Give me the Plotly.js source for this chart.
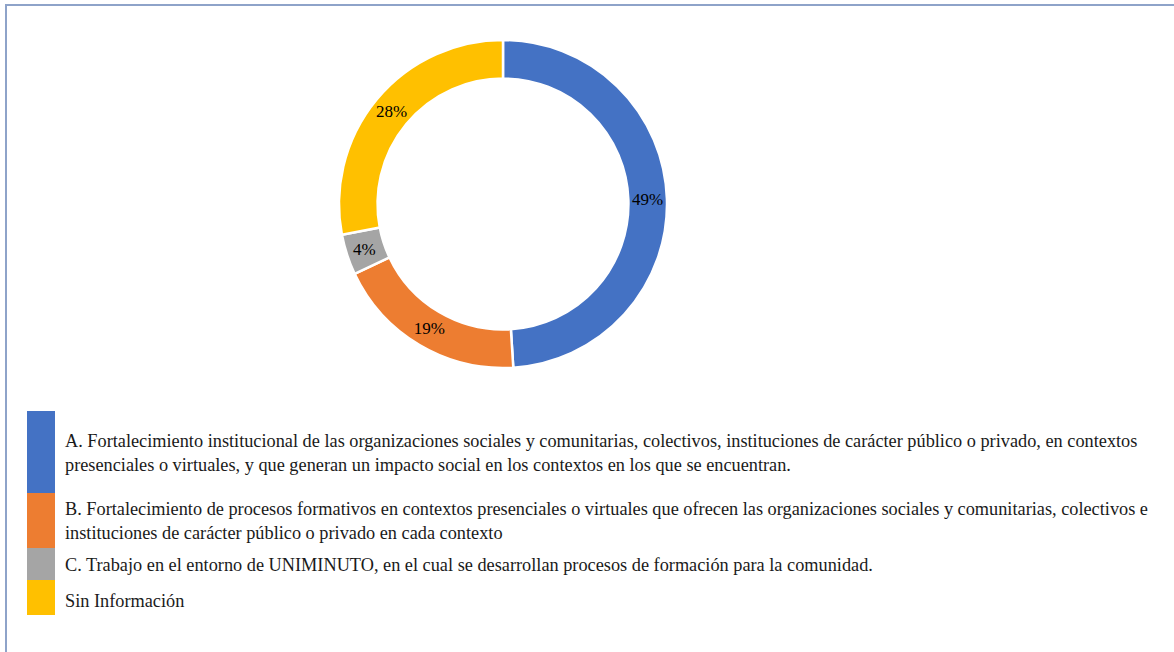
<!DOCTYPE html>
<html>
<head>
<meta charset="utf-8">
<script src="https://cdn.plot.ly/plotly-3.0.1.min.js"></script>
<style>
html,body{margin:0;padding:0;background:#fff;}
#chart{width:1174px;height:652px;}
</style>
</head>
<body>
<div id="chart"></div>
<script>
// ---- data ----
var categories = [
  "A. Fortalecimiento institucional de las organizaciones sociales y comunitarias, colectivos, instituciones de carácter público o privado, en contextos<br>presenciales o virtuales, y que generan un impacto social en los contextos en los que se encuentran.",
  "B. Fortalecimiento de procesos formativos en contextos presenciales o virtuales que ofrecen las organizaciones sociales y comunitarias, colectivos e<br>instituciones de carácter público o privado en cada contexto",
  "C. Trabajo en el entorno de UNIMINUTO, en el cual se desarrollan procesos de formación para la comunidad.",
  "Sin Información"
];
var percentages = [49, 19, 4, 28];
var colors = ["#4472C4", "#ED7D31", "#A5A5A5", "#FFC000"];

// ---- layout helpers (pixel positions) ----
var W = 1174, H = 652;
function px(x){ return x / W; }
function py(y){ return 1 - y / H; }

var FONT = "Liberation Serif, Times New Roman, serif";
var cx = 503, cy = 204, R = 164;

var pieTrace = {
  type: "pie",
  values: percentages,
  labels: categories,
  marker: {colors: colors, line: {color: "#ffffff", width: 2.5}},
  hole: 0.765,
  sort: false,
  direction: "clockwise",
  rotation: 0,
  textinfo: "percent",
  texttemplate: "%{percent:.0%}",
  textposition: "inside",
  insidetextorientation: "horizontal",
  textfont: {family: FONT, size: 17, color: "#000000"},
  showlegend: false,
  hoverinfo: "label+percent",
  domain: {x: [px(cx - R), px(cx + R)], y: [py(cy + R), py(cy - R)]}
};

// legend boxes (top, bottom in px) and text layout
var boxes = [[411, 493], [493, 548], [548, 580], [580, 615]];
var textCenters = [452.5, 520.5, 565, 601];
var shapes = [];
var annotations = [];
for (var i = 0; i < categories.length; i++) {
  shapes.push({
    type: "rect", xref: "paper", yref: "paper",
    x0: px(27), x1: px(55), y0: py(boxes[i][1]), y1: py(boxes[i][0]),
    fillcolor: colors[i], line: {width: 0}
  });
  annotations.push({
    xref: "paper", yref: "paper",
    x: px(63), y: py(textCenters[i]),
    xanchor: "left", yanchor: "middle", align: "left",
    showarrow: false,
    text: categories[i],
    font: {family: FONT, size: 18.3, color: "#1a1a1a"}
  });
}
// outer frame (top and left edges visible)
shapes.push({type: "line", xref: "paper", yref: "paper", x0: px(5), x1: 1, y0: py(5), y1: py(5), line: {color: "#8EA3C9", width: 2}});
shapes.push({type: "line", xref: "paper", yref: "paper", x0: px(6), x1: px(6), y0: py(5), y1: 0, line: {color: "#8EA3C9", width: 2}});

var layout = {
  width: W, height: H,
  margin: {l: 0, r: 0, t: 0, b: 0},
  paper_bgcolor: "#ffffff",
  plot_bgcolor: "#ffffff",
  showlegend: false,
  shapes: shapes,
  annotations: annotations,
  font: {family: FONT}
};

Plotly.newPlot("chart", [pieTrace], layout, {displayModeBar: false, staticPlot: true});
</script>
</body>
</html>
